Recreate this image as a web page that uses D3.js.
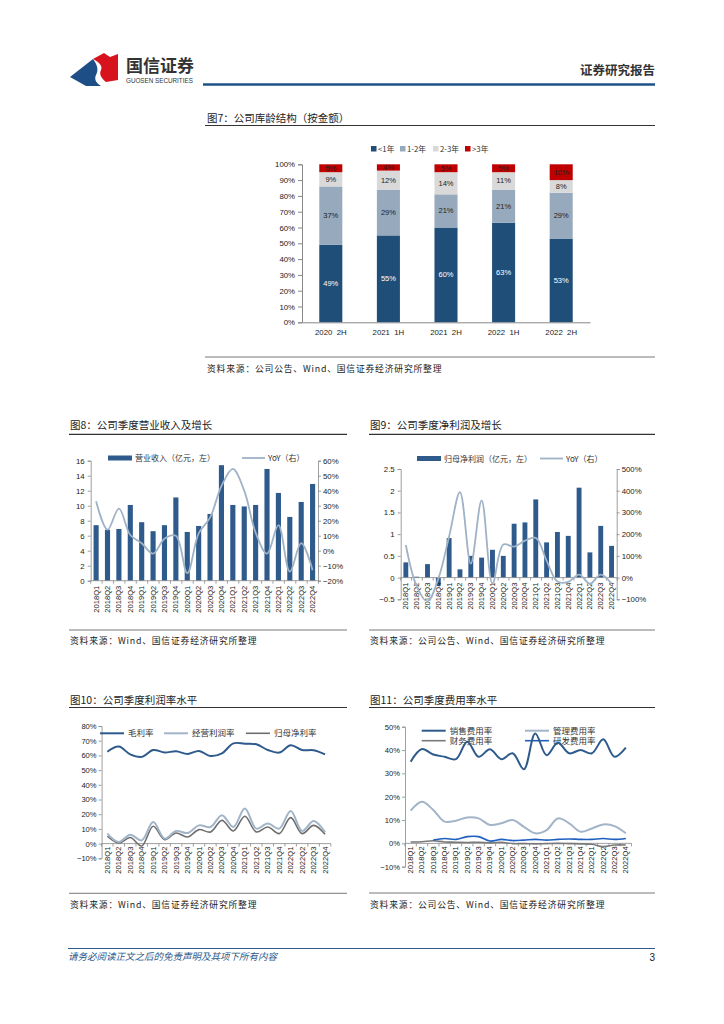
<!DOCTYPE html>
<html><head><meta charset="utf-8">
<script src="https://cdn.jsdelivr.net/npm/d3@7"></script>
<style>body{margin:0;background:#fff}svg{display:block}</style>
</head><body>
<svg id="c" width="724" height="1024"></svg>
<script>
// ---------------- DATA ----------------
const quarters = ["2018Q1","2018Q2","2018Q3","2018Q4","2019Q1","2019Q2","2019Q3","2019Q4",
  "2020Q1","2020Q2","2020Q3","2020Q4","2021Q1","2021Q2","2021Q3","2021Q4",
  "2022Q1","2022Q2","2022Q3","2022Q4"];

// Fig 7
const ageCats = ["2020 2H","2021 1H","2021 2H","2022 1H","2022 2H"];
const ageSeries = ["<1年","1-2年","2-3年",">3年"];
const ageLt1 = [49,55,60,63,53];
const age1to2 = [37,29,21,21,29];
const age2to3 = [9,12,14,11,8];
const ageGt3 = [5,4,5,5,10];
const ageTicks = [0,10,20,30,40,50,60,70,80,90,100];

// Fig 8
const revenue = [7.4,6.8,6.9,10.1,7.8,6.6,7.4,11.1,6.5,7.3,8.9,15.4,10.1,9.9,10.1,14.9,11.7,8.5,10.5,12.9];
const revenueYoY = [33,14,28,10.5,5,-2,8,10,-15,11.5,22,43,54.5,40,12,-2,17,-14,5,-13];
const revTicks = [0,2,4,6,8,10,12,14,16];
const revYoYTicks = [-20,-10,0,10,20,30,40,50,60];

// Fig 9
const netProfit = [0.35,0.02,0.31,-0.19,0.91,0.19,0.5,0.46,0.64,0.5,1.24,1.27,1.8,0.81,1.05,0.96,2.07,0.58,1.19,0.73];
const netProfitYoY = [150,-40,-110,-5,190,393,64,355,-28,152,143,170,183,78,-18,-20,14,-28,14,-28];
const npTicks = [-0.5,0,0.5,1,1.5,2,2.5];
const npYoYTicks = [-100,0,100,200,300,400,500];

// Fig 10
const grossMargin = [62.5,66,60.7,59,63.7,62,62.8,61,63,59.6,61.4,68.2,68,67.6,63.7,61.9,66.9,63.7,63.5,60.7];
const opMargin = [6.8,1.1,6.1,2.2,14.7,3.4,8.6,7.2,12.4,11.3,19.3,11.3,23.8,10.2,13.6,10.2,22.2,8.6,15.4,7.9];
const netMargin = [5,0.4,4.1,-1.6,11.8,2.7,7.2,4.5,9.5,7.9,15.8,8.6,18.6,7.9,11.3,6.8,17.7,6.8,12.4,6.3];
const marginTicks = [-10,0,10,20,30,40,50,60,70,80];

// Fig 11
const salesExp = [35,40.4,38.1,37.1,36.1,43.5,37.1,40.3,36.1,38.6,31.8,47.1,37.8,43.1,38.6,40,38.6,44.6,37.1,41];
const adminExp = [14,17.8,14.3,9.3,9.7,11.1,10.7,7.9,8.6,10,7.1,4.3,5.7,10.7,8.6,5,6.4,8.1,7.4,4.3];
const finExp = [0.6,0.7,1.1,0.6,0.5,0.4,0.5,0.2,0.5,-0.1,-0.1,-0.2,-0.1,0,-0.1,-0.2,-0.4,-1.4,-0.7,-0.7];
const rdExp = [null,null,1.4,2.1,1.7,2.9,2.9,1.0,1.7,1.2,1.4,1.7,1.4,1.7,1.9,1.7,1.7,2.1,1.7,2.1];
const expTicks = [-10,0,10,20,30,40,50];

// ---------------- DRAW ----------------
const svg = d3.select("#c");
const FN = "'Liberation Sans', Arial, sans-serif";
const FC = "'Noto Sans CJK SC', 'Noto Sans', sans-serif";
const DARK = "#2e5a8c", LIGHT = "#9fb2c6";

function txt(x,y,s,o={}){
  const t = svg.append("text").attr("x",x).attr("y",y).text(s)
    .attr("font-family",o.ff||FC).attr("font-size",o.fs||9).attr("fill",o.fill||"#222");
  if(o.anchor) t.attr("text-anchor",o.anchor);
  if(o.ls) t.attr("letter-spacing",o.ls);
  if(o.fw) t.attr("font-weight",o.fw);
  if(o.style) t.attr("font-style",o.style);
  if(o.db) t.attr("dominant-baseline",o.db);
  return t;
}
function hline(x1,x2,y,c,w){svg.append("line").attr("x1",x1).attr("x2",x2).attr("y1",y).attr("y2",y).attr("stroke",c).attr("stroke-width",w);}

// header
svg.append("path").attr("d","M70,77 L93,59 C97,64 99,70 96,75 C94,79 96,83 101,86 L86,86 Z").attr("fill","#1d4f86");
svg.append("path").attr("d","M93,59 L104,53 L110,57 L118,54 L118,80 L106,82 C101,78 99,74 101,70 C103,66 99,62 93,59 Z").attr("fill","#d7141e");
txt(126,72,"国信证券",{fs:17,fill:"#333",fw:"bold"});
txt(126,83,"GUOSEN SECURITIES",{ff:FN,fs:6.3,fill:"#333"});
txt(655,75,"证券研究报告",{fs:12.5,fill:"#333",anchor:"end",fw:"bold"});
hline(203,655,84.5,"#1f5189",2.5);

function title(x,y,s,x1,x2,ly){
  txt(x,y,s,{fs:10.5,fill:"#222"});
  hline(x1,x2,ly,"#333",1.2);
}
function source(x,y,s,x1,x2,ly){
  hline(x1,x2,ly,"#555",0.8);
  txt(x,y,s,{fs:8.8,fill:"#222",ls:0.8});
}

// ---------- Fig 7 ----------
title(207,121.5,"图7：公司库龄结构（按金额）",205,655,125.5);
source(207,371.5,"资料来源：公司公告、Wind、国信证券经济研究所整理",205,655,357);
{
  const x = d3.scaleBand().domain(ageCats).range([302,590]).paddingInner(0.6).paddingOuter(0.3);
  const y = d3.scaleLinear().domain([0,100]).range([322.3,164.3]);
  const rows = ageCats.map((c,i)=>({cat:c,"<1年":ageLt1[i],"1-2年":age1to2[i],"2-3年":age2to3[i],">3年":ageGt3[i]}));
  const stack = d3.stack().keys(ageSeries)(rows);
  const cols = {"<1年":"#1f4e79","1-2年":"#97a9bd","2-3年":"#d9d9d9",">3年":"#c00000"};
  const lblc = {"<1年":"#ffffff","1-2年":"#222","2-3年":"#222",">3年":"#222"};
  stack.forEach(s=>{
    const g = svg.append("g");
    g.selectAll("rect").data(s).join("rect")
      .attr("x",d=>x(d.data.cat)).attr("width",x.bandwidth())
      .attr("y",d=>y(d[1])).attr("height",d=>y(d[0])-y(d[1])).attr("fill",cols[s.key]);
    g.selectAll("text").data(s).join("text")
      .attr("x",d=>x(d.data.cat)+x.bandwidth()/2).attr("y",d=>(y(d[0])+y(d[1]))/2)
      .attr("text-anchor","middle").attr("dominant-baseline","central")
      .attr("font-family",FN).attr("font-size",7.5).attr("fill",lblc[s.key])
      .text(d=>(d[1]-d[0])+"%");
  });
  const ay = svg.append("g").attr("transform","translate(302,0)")
    .call(d3.axisLeft(y).tickValues(ageTicks).tickFormat(d=>d+"%").tickSize(4).tickPadding(3));
  ay.selectAll("text").attr("font-family",FN).attr("font-size",7.8).attr("fill","#222");
  ay.selectAll("line,path").attr("stroke","#888");
  const ax = svg.append("g").attr("transform","translate(0,322.3)")
    .call(d3.axisBottom(x).tickSize(0).tickPadding(7));
  ax.selectAll("text").attr("font-family",FN).attr("font-size",7.8).attr("fill","#222").text(d=>d.replace(" ","\u00a0\u00a0"));
  ax.select("path").attr("stroke","#888");
  // legend
  const lx = [371,400,433,465];
  ageSeries.forEach((k,i)=>{
    svg.append("rect").attr("x",lx[i]).attr("y",146).attr("width",5.5).attr("height",5.5).attr("fill",cols[k]);
    txt(lx[i]+7,152,k,{fs:7.8,fill:"#333"});
  });
}

// x labels rotated
function qLabels(x,axisY,off){
  svg.append("g").selectAll("text").data(quarters).join("text")
    .attr("transform",d=>`translate(${x(d)+x.bandwidth()/2},${axisY+off}) rotate(-90)`)
    .attr("text-anchor","end").attr("dominant-baseline","central")
    .attr("font-family",FN).attr("font-size",7.6).attr("fill","#222").text(d=>d);
}
function xAxisLine(x,axisY){
  const [r0,r1]=x.range();
  hline(r0,r1,axisY,"#888",0.8);
  const step = x.step();
  svg.append("g").selectAll("line").data(d3.range(quarters.length+1)).join("line")
    .attr("x1",i=>r0+i*step).attr("x2",i=>r0+i*step).attr("y1",axisY).attr("y2",axisY+3)
    .attr("stroke","#888").attr("stroke-width",0.8);
}
function styleAxis(g,fs){
  g.selectAll("text").attr("font-family",FN).attr("font-size",fs||7.8).attr("fill","#222");
  g.selectAll("line,path").attr("stroke","#888").attr("stroke-width",0.8);
}
const pctFmt = d=>(d<0?"−":"")+Math.abs(d)+"%";

// ---------- dual chart ----------
function dualChart(o){
  const x = d3.scaleBand().domain(quarters).range([o.x0,o.x1]).paddingInner(0.55).paddingOuter(0.25);
  const yL = d3.scaleLinear().domain(o.ld).range([o.yb,o.yt]);
  const yR = d3.scaleLinear().domain(o.rd).range([o.yb,o.yt]);
  svg.append("g").selectAll("rect").data(o.bars).join("rect")
    .attr("x",(d,i)=>x(quarters[i])).attr("width",x.bandwidth())
    .attr("y",d=>Math.min(yL(d),yL(0))).attr("height",d=>Math.abs(yL(d)-yL(0))).attr("fill",DARK);
  const gl = svg.append("g").attr("transform",`translate(${o.x0},0)`)
    .call(d3.axisLeft(yL).tickValues(o.lt).tickFormat(o.lf).tickSize(3).tickPadding(3));
  styleAxis(gl);
  const gr = svg.append("g").attr("transform",`translate(${o.x1},0)`)
    .call(d3.axisRight(yR).tickValues(o.rt).tickFormat(pctFmt).tickSize(3).tickPadding(2));
  styleAxis(gr);
  xAxisLine(x,yL(0));
  qLabels(x,yL(0),5);
  const clipId = "clip"+o.id;
  svg.append("clipPath").attr("id",clipId).append("rect").attr("x",o.x0).attr("y",o.yt-2).attr("width",o.x1-o.x0).attr("height",o.yb-o.yt+4);
  svg.append("path").datum(o.line).attr("clip-path",`url(#${clipId})`)
    .attr("d",d3.line().x((d,i)=>x(quarters[i])+x.bandwidth()/2).y(d=>yR(d)).curve(d3.curveCatmullRom.alpha(0.5)))
    .attr("fill","none").attr("stroke",LIGHT).attr("stroke-width",1.8);
  // legend
  svg.append("rect").attr("x",o.lg[0]).attr("y",o.ly-2.5).attr("width",24).attr("height",5).attr("fill",DARK);
  txt(o.lg[0]+27,o.ly+3,o.barName,{fs:8,fill:"#333"});
  hline(o.lg[1],o.lg[1]+23,o.ly,LIGHT,1.8);
  txt(o.lg[1]+26,o.ly+3,"YoY（右）",{fs:8,fill:"#333"});
}

title(70,429,"图8：公司季度营业收入及增长",69,347,434.3);
dualChart({id:8,x0:90.7,x1:318,yt:460.7,yb:580.7,ld:[0,16],rd:[-20,60],lt:revTicks,rt:revYoYTicks,lf:d=>d,
  bars:revenue,line:revenueYoY,barName:"营业收入（亿元，左）",lg:[108,242],ly:458});
source(70,643.5,"资料来源：Wind、国信证券经济研究所整理",69,347,630);

title(370,429,"图9：公司季度净利润及增长",369,655,434.3);
dualChart({id:9,x0:400.7,x1:616.7,yt:469,yb:599.3,ld:[-0.5,2.5],rd:[-100,500],lt:npTicks,rt:npYoYTicks,
  lf:d=>(d<0?"−":"")+Math.abs(d),
  bars:netProfit,line:netProfitYoY,barName:"归母净利润（亿元，左）",lg:[417,540],ly:458.5});
source(370,643.5,"资料来源：公司公告、Wind、国信证券经济研究所整理",369,655,630);

// ---------- line charts ----------
function lineChart(o){
  const x = d3.scaleBand().domain(quarters).range([o.x0,o.x1]);
  const y = d3.scaleLinear().domain(o.d).range([o.yb,o.yt]);
  const ga = svg.append("g").attr("transform",`translate(${o.x0},0)`)
    .call(d3.axisLeft(y).tickValues(o.t).tickFormat(pctFmt).tickSize(3).tickPadding(2));
  styleAxis(ga,7.6);
  xAxisLine(x,y(0));
  qLabels(x,y(0),3);
  o.series.forEach(s=>{
    svg.append("path").datum(s.v)
      .attr("d",d3.line().defined(d=>d!=null).x((d,i)=>x(quarters[i])+x.bandwidth()/2).y(d=>y(d)).curve(d3.curveCatmullRom.alpha(0.5)))
      .attr("fill","none").attr("stroke",s.c).attr("stroke-width",s.w);
    hline(s.lx,s.lx+24,s.ly,s.c,s.w);
    txt(s.lx+28,s.ly+3,s.n,{fs:8.5,fill:"#333"});
  });
}

title(70,704,"图10：公司季度利润率水平",69,347,707.5);
lineChart({x0:101.6,x1:330.8,yt:726,yb:858.3,d:[-10,80],t:marginTicks,series:[
  {n:"归母净利率",v:netMargin,c:"#6e6e6e",w:1.6,lx:246,ly:733.3},
  {n:"经营利润率",v:opMargin,c:"#a2b4c8",w:2,lx:164,ly:733.3},
  {n:"毛利率",v:grossMargin,c:DARK,w:2,lx:100,ly:733.3}
]});
source(70,907.5,"资料来源：Wind、国信证券经济研究所整理",69,347,893.3);

title(370,704,"图11：公司季度费用率水平",369,655,707.5);
lineChart({x0:405,x1:631.5,yt:726.7,yb:866.7,d:[-10,50],t:expTicks,series:[
  {n:"财务费用率",v:finExp,c:"#7a7a7a",w:1.6,lx:421.7,ly:740.7},
  {n:"管理费用率",v:adminExp,c:"#a2b4c8",w:2,lx:525,ly:730.7},
  {n:"研发费用率",v:rdExp,c:"#1f5fbf",w:1.6,lx:525,ly:740.7},
  {n:"销售费用率",v:salesExp,c:DARK,w:2,lx:421.7,ly:730.7}
]});
source(370,907.5,"资料来源：公司公告、Wind、国信证券经济研究所整理",369,655,893);

// footer
hline(68,655,948.5,"#2e5a8c",1);
txt(68,960,"请务必阅读正文之后的免责声明及其项下所有内容",{fs:9.5,fill:"#2e5a8c",style:"italic"});
txt(655,961,"3",{ff:FN,fs:10,fill:"#222",anchor:"end"});
</script>
</body></html>
